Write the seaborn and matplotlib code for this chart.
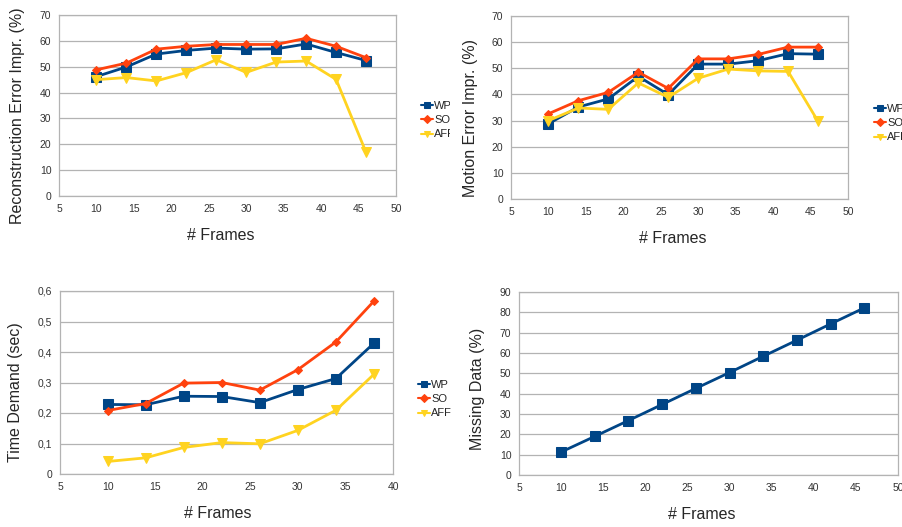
import matplotlib
matplotlib.use("Agg")
import matplotlib.pyplot as plt
import seaborn as sns
import pandas as pd
from matplotlib.ticker import FuncFormatter
from matplotlib.transforms import Bbox, TransformedBbox

sns.set_style("white")
plt.rcParams['font.family'] = ['Liberation Sans', 'DejaVu Sans']

frames = [10, 14, 18, 22, 26, 30, 34, 38, 42, 46]
frames_time = [10, 14, 18, 22, 26, 30, 34, 38]

# reconstruction error improvement (%)
rec_wp = [46.2, 49.9, 54.9, 56.3, 57.2, 56.8, 56.9, 58.8, 55.5, 52.4]
rec_so = [48.8, 51.4, 56.8, 57.9, 58.6, 58.6, 58.6, 61.0, 57.9, 53.5]
rec_aff = [45.0, 45.8, 44.5, 47.7, 52.7, 47.8, 51.8, 52.2, 45.1, 16.9]

# motion error improvement (%)
mot_wp = [28.8, 35.2, 38.3, 46.9, 39.9, 51.6, 51.6, 52.9, 55.6, 55.4]
mot_so = [32.6, 37.6, 40.8, 48.5, 42.3, 53.6, 53.6, 55.3, 58.1, 58.1]
mot_aff = [30.0, 34.8, 34.3, 44.4, 38.9, 46.2, 49.7, 49.0, 48.8, 29.7]

# time demand (sec)
time_wp = [0.228, 0.227, 0.255, 0.254, 0.234, 0.277, 0.313, 0.429]
time_so = [0.208, 0.231, 0.298, 0.300, 0.275, 0.342, 0.433, 0.567]
time_aff = [0.041, 0.053, 0.087, 0.103, 0.099, 0.143, 0.209, 0.327]

# missing data (%)
missing = [11.3, 19.0, 26.8, 34.7, 42.6, 50.4, 58.4, 66.3, 74.3, 82.2]

methods = ["WP", "SO", "AFF"]
colors = {"WP": "#004586", "SO": "#ff420e", "AFF": "#ffd320"}
markers = {"WP": "s", "SO": "D", "AFF": "v"}
msizes = {"WP": 7.5, "SO": 4.5, "AFF": 7.5}

GRID = "#b3b3b3"
TICK_COL = "#333333"

fig = plt.figure(figsize=(9.02, 5.27), dpi=100)
W, H = 902, 527


def add_ax(l, t, r, b):
    return fig.add_axes([l / W, 1 - b / H, (r - l) / W, (b - t) / H])


def style_ax(ax, xlim, xticks, ylim, yticks, ylabel, ylab_xy, xlab_xy):
    ax.set_xlim(*xlim)
    ax.set_xticks(xticks)
    ax.set_ylim(*ylim)
    ax.set_yticks(yticks)
    ax.grid(axis="y", color=GRID, linewidth=0.9)
    ax.grid(axis="x", visible=False)
    ax.set_axisbelow(True)
    for s in ax.spines.values():
        s.set_color(GRID)
        s.set_linewidth(0.9)
    ax.tick_params(axis="both", direction="out", length=3, width=0.8,
                   color=GRID, labelsize=7.5, labelcolor=TICK_COL, pad=2.5)
    ax.set_xlabel("# Frames", fontsize=11.5)
    ax.set_ylabel(ylabel, fontsize=11.5)
    ax.yaxis.set_label_coords(*ylab_xy)
    ax.xaxis.set_label_coords(*xlab_xy)


def draw(ax, x, ys):
    for m, y in zip(methods, ys):
        df = pd.DataFrame({"x": x, "y": y})
        sns.lineplot(data=df, x="x", y="y", ax=ax, color=colors[m],
                     marker=markers[m], markersize=msizes[m],
                     markeredgecolor=colors[m], linewidth=2, label=m,
                     legend=False)


def add_legend(ax, left_px, cy_px):
    leg = ax.legend(loc="center left",
                    bbox_to_anchor=(left_px / W, 1 - cy_px / H),
                    bbox_transform=fig.transFigure, frameon=False,
                    fontsize=8, handlelength=1.1, handletextpad=0.1,
                    labelspacing=0.4, borderpad=0, borderaxespad=0)
    for h in leg.legend_handles:
        h.set_markersize(4.5)
        h.set_linewidth(1.5)
    return leg


# panel 1
ax1 = add_ax(59, 15, 396, 196)
draw(ax1, frames, [rec_wp, rec_so, rec_aff])
style_ax(ax1, (5, 50), range(5, 51, 5), (0, 70), range(0, 71, 10),
         "Reconstruction Error Impr. (%)", (-0.101, 0.442), (0.481, -0.177))
leg1 = add_legend(ax1, 421, 120)
clip = TransformedBbox(Bbox([[0, 0], [450 / W, 1]]), fig.transFigure)
for t in leg1.get_texts():
    t.set_clip_box(clip)
    t.set_clip_on(True)

# panel 2
ax2 = add_ax(511, 16, 848, 199)
draw(ax2, frames, [mot_wp, mot_so, mot_aff])
style_ax(ax2, (5, 50), range(5, 51, 5), (0, 70), range(0, 71, 10),
         "Motion Error Impr. (%)", (-0.098, 0.443), (0.481, -0.175))
add_legend(ax2, 874, 123)

# panel 3
ax3 = add_ax(60, 291, 393, 474)
draw(ax3, frames_time, [time_wp, time_so, time_aff])
style_ax(ax3, (5, 40), range(5, 41, 5), (0, 0.6),
         [0, 0.1, 0.2, 0.3, 0.4, 0.5, 0.6], "Time Demand (sec)",
         (-0.111, 0.448), (0.474, -0.175))
ax3.yaxis.set_major_formatter(
    FuncFormatter(lambda v, p: "0" if v == 0 else f"{v:.1f}".replace(".", ",")))
add_legend(ax3, 418, 399)

# panel 4
ax4 = add_ax(519, 292, 898, 475)
sns.lineplot(x=frames, y=missing, ax=ax4, color=colors["WP"], marker="s",
             markersize=7.5, markeredgecolor=colors["WP"], linewidth=2)
style_ax(ax4, (5, 50), range(5, 51, 5), (0, 90), range(0, 91, 10),
         "Missing Data (%)", (-0.09, 0.47), (0.483, -0.175))

fig.savefig("out.png", dpi=100)
